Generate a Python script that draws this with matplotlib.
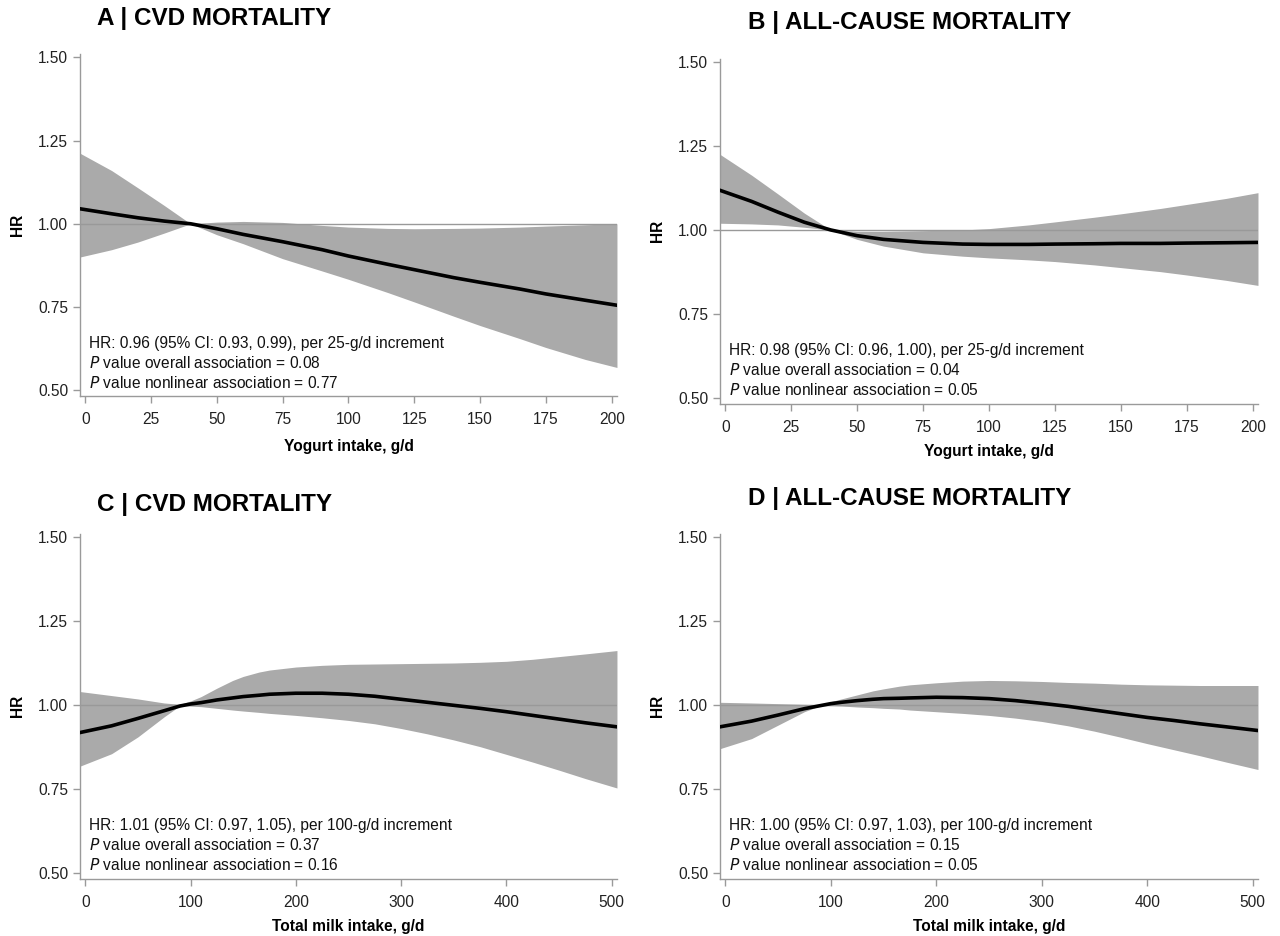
import numpy as np
import matplotlib
matplotlib.use("Agg")
import matplotlib.pyplot as plt

plt.rcParams['font.family'] = ['Liberation Sans', 'DejaVu Sans']

# ---- data ----
# A: yogurt, CVD mortality
yog_x = [-2, 10, 20, 30, 40, 50, 60, 75, 90, 100, 115, 125, 140, 150, 165, 175, 190, 202]
a_hr = [1.045, 1.030, 1.018, 1.008, 1.000, 0.985, 0.968, 0.946, 0.922, 0.903, 0.878, 0.862, 0.838, 0.824, 0.804, 0.789, 0.770, 0.755]
a_lo = [0.900, 0.922, 0.945, 0.972, 1.000, 0.967, 0.940, 0.895, 0.858, 0.833, 0.793, 0.765, 0.722, 0.694, 0.655, 0.628, 0.592, 0.568]
a_hi = [1.212, 1.160, 1.108, 1.055, 1.000, 1.005, 1.007, 1.004, 0.995, 0.990, 0.986, 0.985, 0.986, 0.987, 0.990, 0.993, 0.997, 1.000]

# B: yogurt, all-cause mortality
b_hr = [1.118, 1.085, 1.053, 1.023, 1.000, 0.983, 0.972, 0.963, 0.958, 0.957, 0.957, 0.958, 0.959, 0.960, 0.960, 0.961, 0.962, 0.963]
b_lo = [1.020, 1.018, 1.015, 1.008, 1.000, 0.972, 0.952, 0.932, 0.922, 0.917, 0.911, 0.906, 0.896, 0.888, 0.876, 0.866, 0.850, 0.835]
b_hi = [1.225, 1.163, 1.107, 1.050, 1.000, 0.996, 0.996, 0.998, 1.000, 1.004, 1.015, 1.024, 1.038, 1.048, 1.064, 1.076, 1.094, 1.111]

# C: total milk, CVD mortality
milk_x = [-5, 25, 50, 75, 90, 100, 110, 125, 140, 150, 165, 175, 200, 225, 250, 275, 300, 325, 350, 375, 400, 425, 450, 475, 505]
c_hr = [0.918, 0.938, 0.960, 0.983, 0.997, 1.003, 1.007, 1.015, 1.021, 1.025, 1.029, 1.032, 1.035, 1.035, 1.032, 1.026, 1.017, 1.008, 0.999, 0.990, 0.980, 0.969, 0.958, 0.947, 0.935]
c_lo = [0.818, 0.855, 0.905, 0.965, 0.998, 0.997, 0.995, 0.990, 0.985, 0.982, 0.978, 0.975, 0.969, 0.962, 0.954, 0.944, 0.930, 0.914, 0.896, 0.876, 0.853, 0.830, 0.806, 0.781, 0.753]
c_hi = [1.040, 1.028, 1.018, 1.006, 1.002, 1.012, 1.025, 1.050, 1.073, 1.085, 1.098, 1.104, 1.113, 1.118, 1.121, 1.122, 1.123, 1.124, 1.125, 1.127, 1.130, 1.136, 1.144, 1.152, 1.162]

# D: total milk, all-cause mortality
d_hr = [0.935, 0.952, 0.970, 0.989, 0.998, 1.004, 1.008, 1.013, 1.017, 1.019, 1.020, 1.021, 1.023, 1.022, 1.019, 1.013, 1.005, 0.996, 0.985, 0.974, 0.963, 0.954, 0.944, 0.935, 0.924]
d_lo = [0.870, 0.900, 0.940, 0.980, 0.998, 0.998, 0.997, 0.994, 0.992, 0.990, 0.988, 0.985, 0.980, 0.975, 0.969, 0.961, 0.951, 0.938, 0.922, 0.904, 0.885, 0.867, 0.849, 0.830, 0.808]
d_hi = [1.008, 1.006, 1.004, 1.002, 1.001, 1.010, 1.018, 1.030, 1.042, 1.048, 1.056, 1.060, 1.066, 1.071, 1.073, 1.072, 1.070, 1.067, 1.065, 1.062, 1.060, 1.059, 1.058, 1.058, 1.058]

titles = ['A | CVD MORTALITY', 'B | ALL-CAUSE MORTALITY', 'C | CVD MORTALITY', 'D | ALL-CAUSE MORTALITY']
xlabels = ['Yogurt intake, g/d', 'Yogurt intake, g/d', 'Total milk intake, g/d', 'Total milk intake, g/d']
hr_text = ['HR: 0.96 (95% CI: 0.93, 0.99), per 25-g/d increment',
           'HR: 0.98 (95% CI: 0.96, 1.00), per 25-g/d increment',
           'HR: 1.01 (95% CI: 0.97, 1.05), per 100-g/d increment',
           'HR: 1.00 (95% CI: 0.97, 1.03), per 100-g/d increment']
p_overall = ['0.08', '0.04', '0.37', '0.15']
p_nonlin = ['0.77', '0.05', '0.16', '0.05']

yticks = [0.50, 0.75, 1.00, 1.25, 1.50]
yog_ticks = [0, 25, 50, 75, 100, 125, 150, 175, 200]
milk_ticks = [0, 100, 200, 300, 400, 500]

fig = plt.figure(figsize=(12.8, 9.36), dpi=100)
rects = [[0.0625, 0.5772, 0.4195, 0.3650],
         [0.5625, 0.5687, 0.4203, 0.3687],
         [0.0625, 0.0612, 0.4195, 0.3687],
         [0.5625, 0.0612, 0.4203, 0.3687]]
title_pos = [(97, 19), (748, 22), (97, 504), (748, 499)]
xlab_y = [-0.128, -0.116, -0.116, -0.116]

panels = [(yog_x, a_hr, a_lo, a_hi), (yog_x, b_hr, b_lo, b_hi),
          (milk_x, c_hr, c_lo, c_hi), (milk_x, d_hr, d_lo, d_hi)]

band_col = '#aaaaaa'
axis_col = '#9a9a9a'
fs = 11.2

for i, (x, hr, lo, hi) in enumerate(panels):
    ax = fig.add_axes(rects[i])
    ax.fill_between(x, lo, hi, color=band_col, lw=0)
    ax.axhline(1.0, color='#999999', lw=1.0, zorder=1.5)
    ax.plot(x, hr, color='black', lw=2.6, zorder=3)

    if i < 2:
        ax.set_xlim(-2, 202)
        ax.set_xticks(yog_ticks)
    else:
        ax.set_xlim(-5, 505)
        ax.set_xticks(milk_ticks)
    ax.set_ylim(0.483, 1.51)
    ax.set_yticks(yticks)
    ax.set_yticklabels(['%.2f' % v for v in yticks])

    for s in ['top', 'right']:
        ax.spines[s].set_visible(False)
    for s in ['left', 'bottom']:
        ax.spines[s].set_color(axis_col)
        ax.spines[s].set_linewidth(1.0)
    ax.tick_params(colors=axis_col, labelcolor='#222222', labelsize=fs, length=5, width=1)
    ax.tick_params(axis='x', pad=7)

    ax.set_ylabel('HR', fontsize=fs, fontweight='bold')
    ax.yaxis.set_label_coords(-0.102, 0.5)
    ax.set_xlabel(xlabels[i], fontsize=fs, fontweight='bold')
    ax.xaxis.set_label_coords(0.5, xlab_y[i])

    ax.text(0.017, 0.14, hr_text[i], transform=ax.transAxes, fontsize=fs, color='#111111')
    ax.text(0.017, 0.082, r'$\it{P}$ value overall association = ' + p_overall[i],
            transform=ax.transAxes, fontsize=fs, color='#111111')
    ax.text(0.017, 0.024, r'$\it{P}$ value nonlinear association = ' + p_nonlin[i],
            transform=ax.transAxes, fontsize=fs, color='#111111')

    tx, ty = title_pos[i]
    fig.text(tx / 1280, 1 - ty / 936, titles[i], fontsize=17.5, fontweight='bold',
             va='center', ha='left')

fig.savefig('out.png', dpi=100)
